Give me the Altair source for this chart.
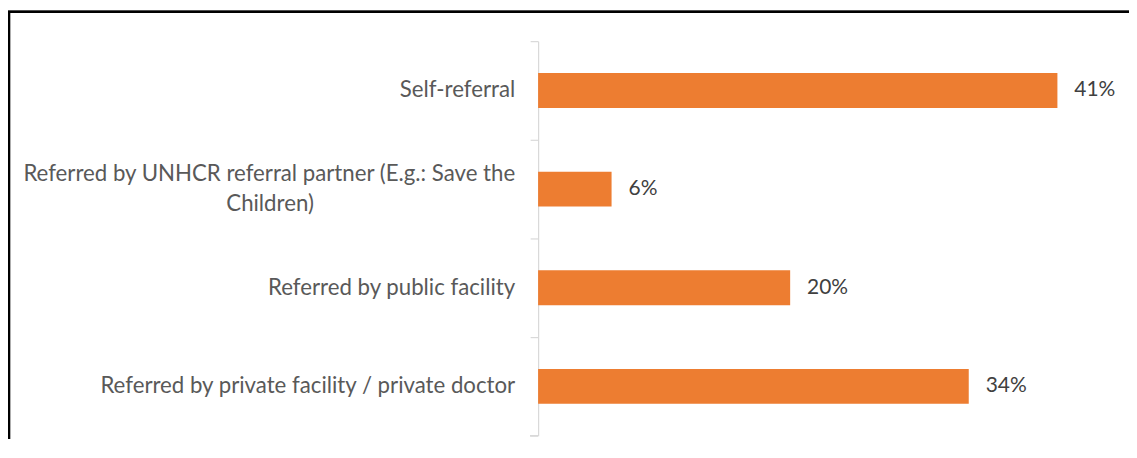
import altair as alt

categories = [
    "Self-referral",
    "Referred by UNHCR referral partner (E.g.: Save the Children)",
    "Referred by public facility",
    "Referred by private facility / private doctor",
]
label_line1 = [
    "Self-referral",
    "Referred by UNHCR referral partner (E.g.: Save the",
    "Referred by public facility",
    "Referred by private facility / private doctor",
]
label_line2 = ["", "Children)", "", ""]
shares = [0.410, 0.058, 0.199, 0.340]
share_labels = ["41%", "6%", "20%", "34%"]

rows = [
    {"category": c, "line1": a, "line2": b, "share": v, "share_label": l}
    for c, a, b, v, l in zip(categories, label_line1, label_line2, shares, share_labels)
]
data = alt.InlineData(values=rows)

LABEL_FONT = "Lato"
LABEL_SIZE = 22.3
VALUE_SIZE = 21
LABEL_COLOR = "#595959"
W, H = 572, 396

y_enc = alt.Y(
    "category:N",
    sort=None,
    title=None,
    scale=alt.Scale(paddingInner=0.647, paddingOuter=0.3235),
    axis=alt.Axis(
        labels=False,
        domainColor="#d9d9d9",
        domainWidth=1.2,
        tickColor="#d9d9d9",
        tickWidth=1.2,
        tickSize=8,
        tickOffset=-49.5,
        grid=False,
    ),
)
y_plain = alt.Y("category:N", sort=None)

x_enc = alt.X("share:Q", title=None, axis=None)

base = alt.Chart(data)

bars = base.mark_bar(color="#ED7D31").encode(x=x_enc, y=y_enc)

values_text = base.mark_text(
    align="left", baseline="middle", dx=17, font=LABEL_FONT, fontSize=VALUE_SIZE, color="#404040"
).encode(x=x_enc, y=y_plain, text="share_label:N")

single_labels = base.transform_filter("datum.line2 == ''").mark_text(
    align="right", baseline="middle", font=LABEL_FONT, fontSize=LABEL_SIZE, color=LABEL_COLOR
).encode(x=alt.value(-23), y=y_plain, text="line1:N")

wrapped_first = base.transform_filter("datum.line2 != ''").mark_text(
    align="right", baseline="middle", dy=-15, font=LABEL_FONT, fontSize=LABEL_SIZE, color=LABEL_COLOR
).encode(x=alt.value(-23), y=y_plain, text="line1:N")

wrapped_second = base.transform_filter("datum.line2 != ''").mark_text(
    align="center", baseline="middle", dy=15, font=LABEL_FONT, fontSize=LABEL_SIZE, color=LABEL_COLOR
).encode(x=alt.value(-269), y=y_plain, text="line2:N")

frame = base.mark_rect(
    fill="white", fillOpacity=0, stroke="black", strokeWidth=2.2, clip=False
).encode(x=alt.value(-531), x2=alt.value(700), y=alt.value(-29.5), y2=alt.value(600))

bottom_tick = base.mark_rule(color="#d9d9d9", strokeWidth=1.2).encode(
    x=alt.value(-8), x2=alt.value(0), y=alt.value(H), y2=alt.value(H)
)

chart = alt.layer(
    frame, bars, values_text, single_labels, wrapped_first, wrapped_second, bottom_tick
).properties(
    width=W,
    height=H,
    autosize=alt.AutoSizeParams(type="none"),
    padding={"left": 532, "top": 32.5, "right": 21, "bottom": 2},
).configure(
    background="white",
    view=alt.ViewConfig(stroke="transparent", strokeWidth=0),
)

chart.save("out.html", embed_options={"renderer": "svg", "actions": False})
